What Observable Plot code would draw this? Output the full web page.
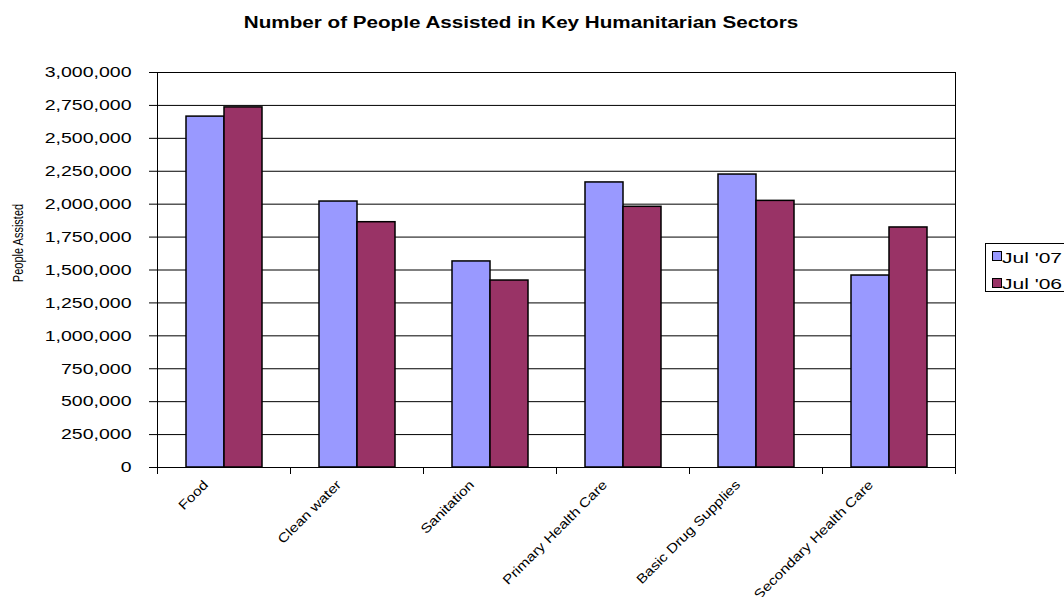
<!DOCTYPE html>
<html>
<head>
<meta charset="utf-8">
<script src="https://cdn.jsdelivr.net/npm/d3@7"></script>
<script src="https://cdn.jsdelivr.net/npm/@observablehq/plot@0.6"></script>
<style>
  html, body { margin: 0; padding: 0; background: #fff; }
  body { width: 1064px; height: 597px; overflow: hidden; position: relative;
         font-family: "Liberation Sans", Arial, sans-serif; color: #000; }
  #chart { position: absolute; left: 0; top: 0; }
  #title { position: absolute; left: 521px; top: 14px; font-weight: bold; font-size: 16px;
           white-space: nowrap; transform: translateX(-50%) scaleX(1.29); }
  #ylabel { position: absolute; left: 19px; top: 243px; font-size: 11px; line-height: 11px;
            white-space: nowrap; transform: translate(-50%, -50%) rotate(-90deg) scaleY(1.25); }
  #legend { position: absolute; left: 985px; top: 243px; width: 120px; height: 49px;
            border: 1px solid #000; box-sizing: border-box; background: #fff; }
  .sw { position: absolute; left: 6px; width: 10px; height: 10px; border: 1px solid #000; box-sizing: border-box; }
  .lt { position: absolute; left: 16px; font-size: 15px; line-height: 15px; white-space: nowrap;
        transform-origin: left center; transform: scaleX(1.4); }
</style>
</head>
<body>
<div id="chart"></div>
<div id="title">Number of People Assisted in Key Humanitarian Sectors</div>
<div id="ylabel">People Assisted</div>
<div id="legend"></div>
<script>
const categories = ["Food", "Clean water", "Sanitation", "Primary Health Care", "Basic Drug Supplies", "Secondary Health Care"];
const seriesNames = ["Jul '07", "Jul '06"];
const jul07 = [2665000, 2020000, 1565000, 2165000, 2225000, 1458000];
const jul06 = [2735000, 1863000, 1420000, 1980000, 2025000, 1823000];
const seriesColors = ["#9999FF", "#993366"];
const yTickValues = [0, 250000, 500000, 750000, 1000000, 1250000, 1500000, 1750000, 2000000, 2250000, 2500000, 2750000, 3000000];

const rows = categories.flatMap((c, i) => [
  {category: c, series: seriesNames[0], value: jul07[i]},
  {category: c, series: seriesNames[1], value: jul06[i]}
]);

const chart = Plot.plot({
  width: 1064,
  height: 597,
  marginLeft: 155,
  marginRight: 108,
  marginTop: 72,
  marginBottom: 130,
  style: {fontFamily: "'Liberation Sans', Arial, sans-serif", fontSize: "15px", color: "black", background: "transparent", overflow: "visible"},
  fx: {domain: categories, padding: 0, axis: null, label: null},
  x: {domain: seriesNames, paddingInner: 0, paddingOuter: 0.75, axis: null, label: null},
  y: {domain: [0, 3000000], axis: null, label: null},
  color: {domain: seriesNames, range: seriesColors},
  marks: [
    Plot.gridY(yTickValues, {stroke: "black", strokeOpacity: 1, strokeWidth: 1}),
    Plot.barY(rows, {fx: "category", x: "series", y: "value", fill: "series", stroke: "black", strokeWidth: 1.5}),
    Plot.ruleY([0], {stroke: "black"}),
    Plot.frame({anchor: "left", insetTop: 395, insetBottom: -6, stroke: "black"}),
    Plot.frame({anchor: "left", facetAnchor: "left", insetBottom: -6, stroke: "black"}),
    Plot.frame({anchor: "right", facetAnchor: "right", insetBottom: -6, stroke: "black"}),
    Plot.axisY(yTickValues, {anchor: "left", tickSize: 8, tickPadding: 18, tickFormat: d3.format(","), fontSize: 15}),
    Plot.text(categories, {fx: d => d, text: d => d, frameAnchor: "bottom", rotate: -45, textAnchor: "end",
      dx: -15, dy: 18, fontSize: 13, fill: "black"})
  ]
});

document.getElementById("chart").appendChild(chart);

// horizontal stretch of the reference's text, applied along each text's baseline
chart.querySelectorAll("text").forEach(t => {
  const s = t.textContent;
  let k = null;
  if (categories.includes(s)) k = 1.2;
  else if (/^[\d,]+$/.test(s)) k = 1.3;
  if (k) {
    const L = t.getComputedTextLength();
    if (L > 0) {
      t.setAttribute("textLength", (L * k).toFixed(1));
      t.setAttribute("lengthAdjust", "spacingAndGlyphs");
    }
  }
});

const legend = document.getElementById("legend");
seriesNames.forEach((name, i) => {
  const sw = document.createElement("div");
  sw.className = "sw";
  sw.style.top = (7 + i * 27) + "px";
  sw.style.background = seriesColors[i];
  legend.appendChild(sw);
  const lt = document.createElement("div");
  lt.className = "lt";
  lt.style.top = (6 + i * 26) + "px";
  lt.textContent = name;
  legend.appendChild(lt);
});
</script>
</body>
</html>
